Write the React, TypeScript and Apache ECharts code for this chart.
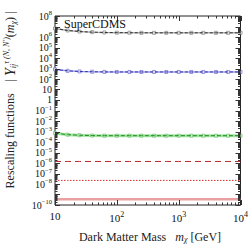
import React, { useEffect, useRef } from "react";
import * as echarts from "echarts";

const massGrid = [10, 16, 25, 40, 63, 100, 160, 250, 400, 630, 1000, 1600, 2500, 4000, 6300, 10000];
const grayVals = [6.5e6, 4.2e6, 3.3e6, 2.9e6, 2.7e6, 2.6e6, 2.55e6, 2.5e6, 2.5e6, 2.5e6, 2.5e6, 2.5e6, 2.5e6, 2.5e6, 2.5e6, 2.5e6];
const blueVals = [820, 600, 520, 490, 475, 470, 470, 470, 470, 470, 470, 470, 470, 470, 470, 470];
const greenVals = [7e-4, 5e-4, 4.4e-4, 4.1e-4, 4e-4, 4e-4, 4e-4, 4e-4, 4e-4, 4e-4, 4e-4, 4e-4, 4e-4, 4e-4, 4e-4, 4e-4];
const darkRedVals = [1.4e-6, 1.4e-6, 1.4e-6, 1.4e-6, 1.4e-6, 1.4e-6, 1.4e-6, 1.4e-6, 1.4e-6, 1.4e-6, 1.4e-6, 1.4e-6, 1.4e-6, 1.4e-6, 1.4e-6, 1.4e-6];
const redDotVals = [2.2e-8, 2.2e-8, 2.2e-8, 2.2e-8, 2.2e-8, 2.2e-8, 2.2e-8, 2.2e-8, 2.2e-8, 2.2e-8, 2.2e-8, 2.2e-8, 2.2e-8, 2.2e-8, 2.2e-8, 2.2e-8];
const pinkVals = [3.5e-10, 3.5e-10, 3.5e-10, 3.5e-10, 3.5e-10, 3.5e-10, 3.5e-10, 3.5e-10, 3.5e-10, 3.5e-10, 3.5e-10, 3.5e-10, 3.5e-10, 3.5e-10, 3.5e-10, 3.5e-10];
const xDecades = [1, 2, 3, 4];
const yDecades = [-10, -9, -8, -7, -6, -5, -4, -3, -2, -1, 0, 1, 2, 3, 4, 5, 6, 7, 8];
const minorMults = [2, 3, 4, 5, 6, 7, 8, 9];

const FONT = "'Liberation Serif', 'DejaVu Serif', serif";

function pairs(vals: number[]) {
  return massGrid.map((m, i) => [m, vals[i]]);
}

function expLabel(val: number) {
  const e = Math.round(Math.log10(val));
  if (e === 0) return "{one|1}";
  if (e === 1) return "10";
  return "10{s|" + (e < 0 ? "\u2212" + -e : String(e)) + "}";
}

export default function App() {
  const ref = useRef<HTMLDivElement>(null);
  useEffect(() => {
    if (!ref.current) return;
    const chart = echarts.init(ref.current, undefined, { renderer: "svg" });

    const xTicks: number[][] = [];
    xDecades.forEach((d) => {
      xTicks.push([Math.pow(10, d), 2]);
      if (d < 4) minorMults.forEach((m) => xTicks.push([m * Math.pow(10, d), 1]));
    });
    const yTicks: number[][] = [];
    yDecades.forEach((d) => {
      yTicks.push([100, Math.pow(10, d)]);
      if (d < 8) minorMults.forEach((m) => yTicks.push([200, m * Math.pow(10, d)]));
    });

    const lineSeries = (data: number[][], color: string, width: number, type: any, z = 2, sym = false, symColor = "") => ({
      type: "line",
      data,
      showSymbol: sym,
      symbol: "rect",
      symbolSize: 3,
      itemStyle: sym ? { color: "rgba(255,255,255,0.6)", borderColor: symColor, borderWidth: 0.8 } : undefined,
      lineStyle: { color, width, type },
      z,
      silent: true,
    });

    chart.setOption({
      animation: false,
      grid: { left: 55, right: 8, top: 16, bottom: 41, show: true, borderColor: "#222", borderWidth: 1, backgroundColor: "transparent" },
      xAxis: {
        type: "log",
        logBase: 10,
        min: 10,
        max: 10000,
        interval: 1,
        axisLine: { show: false },
        axisTick: { show: false },
        splitLine: { show: false },
        axisLabel: {
          formatter: (v: number) => expLabel(v).replace("{one|1}", "1"),
          fontFamily: FONT,
          fontSize: 11,
          color: "#111",
          margin: 5,
          showMinLabel: true,
          showMaxLabel: true,
          rich: { s: { fontSize: 8, fontFamily: FONT, color: "#111", padding: [0, 0, 7, 0] } },
        },
      },
      yAxis: {
        type: "log",
        logBase: 10,
        min: 1e-10,
        max: 1e8,
        interval: 1,
        axisLine: { show: false },
        axisTick: { show: false },
        splitLine: { show: false },
        axisLabel: {
          formatter: expLabel,
          fontFamily: FONT,
          fontSize: 10,
          lineHeight: 10,
          color: "#111",
          margin: 3,
          showMinLabel: true,
          showMaxLabel: true,
          hideOverlap: false,
          rich: {
            s: { fontSize: 6.5, lineHeight: 2, fontFamily: FONT, color: "#111", padding: [0, 0, 7, 0] },
            one: { fontSize: 10, lineHeight: 8, fontFamily: FONT, color: "#111", padding: [0, 0, 2, 0] },
          },
        },
      },
      graphic: [
        {
          type: "text",
          left: 64,
          top: 18,
          style: { text: "SuperCDMS", font: "12px " + FONT, fill: "#111" },
          z: 10,
        },
        {
          type: "text",
          x: 150,
          y: 237,
          style: {
            text: "Dark Matter Mass   {i|m}{sub|\u03c7} [GeV]",
            font: "12px " + FONT,
            fill: "#222",
            align: "center",
            verticalAlign: "middle",
            rich: {
              i: { fontStyle: "italic", fontSize: 12, fontFamily: FONT },
              sub: { fontStyle: "italic", fontSize: 8, fontFamily: FONT, padding: [5, 0, 0, 0] },
            },
          },
        },
        {
          type: "text",
          x: 10,
          y: 100,
          rotation: Math.PI / 2,
          style: {
            text: "Rescaling functions    | {y|Y}{sub|ij}{sup|\u03c4 (N, N\u2032)}({i|m}{sub|\u03c7}) |",
            font: "12px " + FONT,
            fill: "#222",
            align: "center",
            verticalAlign: "middle",
            rich: {
              y: { fontStyle: "italic", fontSize: 14, fontFamily: FONT },
              i: { fontStyle: "italic", fontSize: 12, fontFamily: FONT },
              sub: { fontStyle: "italic", fontSize: 8, fontFamily: FONT, padding: [6, 0, 0, 0] },
              sup: { fontStyle: "italic", fontSize: 8, fontFamily: FONT, padding: [0, 0, 8, 0] },
            },
          },
        },
      ],
      series: [
        lineSeries(pairs(grayVals), "#b0b0b0", 1.5, "solid", 2, true, "#8a8a8a"),
        lineSeries(pairs(grayVals), "#333", 1, [3, 2], 3),
        lineSeries(pairs(blueVals), "#a0a0ea", 1.5, "solid", 2, true, "#7a7ad6"),
        lineSeries(pairs(blueVals), "#3535b0", 1, [3, 2], 3),
        lineSeries(pairs(greenVals), "#a2e2a2", 3, "solid", 2, true, "#70c870"),
        lineSeries(pairs(greenVals), "#1f8f1f", 1, [4, 2], 3),
        lineSeries(pairs(darkRedVals), "#b32a2a", 1, [6, 4], 3),
        lineSeries(pairs(redDotVals), "#d42a2a", 1, [1.5, 1.5], 3),
        lineSeries(pairs(pinkVals), "#e8a0a0", 2.5, "solid", 3),
        {
          type: "custom",
          silent: true,
          z: 5,
          data: xTicks,
          renderItem: (params: any, api: any) => {
            const cs = params.coordSys;
            const px = Math.round(api.coord([api.value(0), 1])[0]) + 0.5;
            const len = api.value(1) === 2 ? 5 : 2.5;
            const b = cs.y + cs.height;
            return {
              type: "group",
              children: [
                { type: "line", shape: { x1: px, y1: b, x2: px, y2: b - len }, style: { stroke: "#333", lineWidth: 1 } },
                { type: "line", shape: { x1: px, y1: cs.y, x2: px, y2: cs.y + len }, style: { stroke: "#333", lineWidth: 1 } },
              ],
            };
          },
        },
        {
          type: "custom",
          silent: true,
          z: 5,
          data: yTicks,
          renderItem: (params: any, api: any) => {
            const cs = params.coordSys;
            const py = Math.round(api.coord([100, api.value(1)])[1]) + 0.5;
            const len = api.value(0) === 100 ? 5 : 2.5;
            const r = cs.x + cs.width;
            return {
              type: "group",
              children: [
                { type: "line", shape: { x1: cs.x, y1: py, x2: cs.x + len, y2: py }, style: { stroke: "#333", lineWidth: 1 } },
                { type: "line", shape: { x1: r, y1: py, x2: r - len, y2: py }, style: { stroke: "#333", lineWidth: 1 } },
              ],
            };
          },
        },
      ],
    });
    return () => chart.dispose();
  }, []);
  return <div ref={ref} style={{ width: 251, height: 246, position: "absolute", left: 0, top: 0 }} />;
}
